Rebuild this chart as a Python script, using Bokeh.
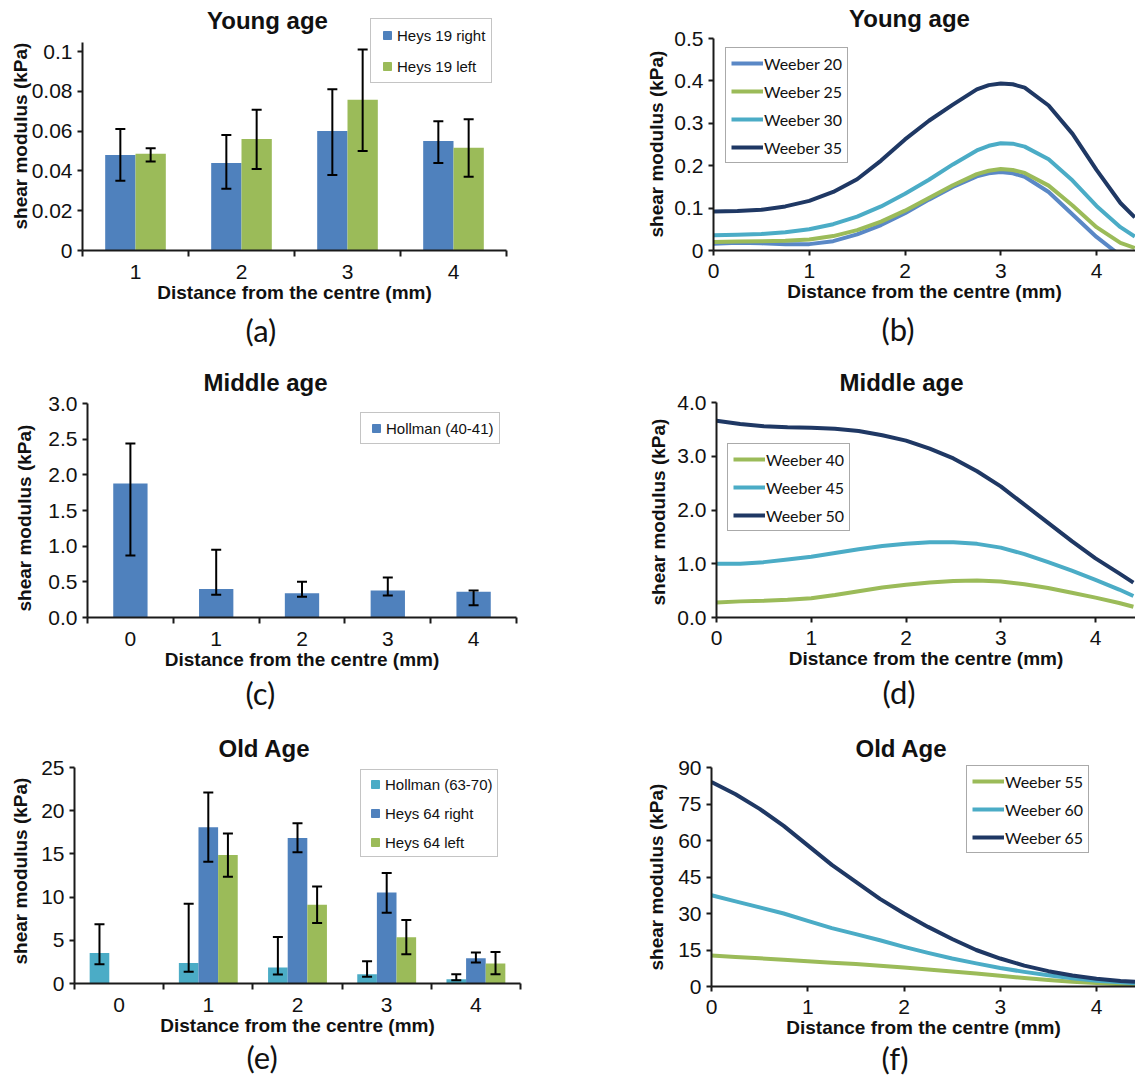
import numpy as np
from bokeh.plotting import figure
from bokeh.layouts import column, row
from bokeh.models import (ColumnDataSource, Whisker, TeeHead, Legend, LegendItem,
                          Label, FixedTicker, Range1d, Title)
from bokeh.embed import file_html
from bokeh.resources import INLINE

# ---------------- data ----------------
# (a) Young age, bars
dist_a = [1, 2, 3, 4]
heys19_right = [0.048, 0.044, 0.060, 0.055]
heys19_right_lo = [0.035, 0.031, 0.038, 0.044]
heys19_right_hi = [0.061, 0.058, 0.081, 0.065]
heys19_left = [0.0486, 0.056, 0.0757, 0.0516]
heys19_left_lo = [0.0447, 0.041, 0.050, 0.037]
heys19_left_hi = [0.0514, 0.0707, 0.101, 0.066]
yticks_a = [0, 0.02, 0.04, 0.06, 0.08, 0.1]
ylabels_a = ["0", "0.02", "0.04", "0.06", "0.08", "0.1"]

# (c) Middle age, bars
dist_c = [0, 1, 2, 3, 4]
hollman_40 = [1.88, 0.40, 0.34, 0.38, 0.36]
hollman_40_lo = [0.87, 0.32, 0.29, 0.31, 0.17]
hollman_40_hi = [2.44, 0.95, 0.50, 0.56, 0.38]
yticks_c = [0, 0.5, 1.0, 1.5, 2.0, 2.5, 3.0]
ylabels_c = ["0.0", "0.5", "1.0", "1.5", "2.0", "2.5", "3.0"]

# (e) Old age, bars
dist_e = [0, 1, 2, 3, 4]
hollman_63 = [3.54, 2.38, 1.85, 1.08, 0.50]
hollman_63_lo = [2.23, 1.35, 1.04, 0.77, 0.38]
hollman_63_hi = [6.85, 9.23, 5.38, 2.58, 1.08]
heys64_right = [np.nan, 18.08, 16.85, 10.54, 2.92]
heys64_right_lo = [np.nan, 14.1, 15.2, 8.2, 2.42]
heys64_right_hi = [np.nan, 22.1, 18.54, 12.8, 3.58]
heys64_left = [np.nan, 14.88, 9.12, 5.35, 2.31]
heys64_left_lo = [np.nan, 12.35, 7.0, 3.38, 1.08]
heys64_left_hi = [np.nan, 17.35, 11.23, 7.35, 3.65]
yticks_e = [0, 5, 10, 15, 20, 25]
ylabels_e = ["0", "5", "10", "15", "20", "25"]

# (b) Young age, lines (distance grid in mm)
dist_b = [0, 0.25, 0.5, 0.75, 1, 1.25, 1.5, 1.75, 2, 2.25, 2.5, 2.75, 2.875,
          3, 3.125, 3.25, 3.5, 3.75, 4, 4.25, 4.4]
weeber20 = [0.016, 0.018, 0.017, 0.015, 0.015, 0.022, 0.038, 0.060, 0.088, 0.120,
            0.150, 0.175, 0.182, 0.185, 0.182, 0.174, 0.138, 0.085, 0.032, -0.012, -0.035]
weeber25 = [0.020, 0.021, 0.022, 0.023, 0.026, 0.034, 0.048, 0.068, 0.094, 0.124,
            0.154, 0.180, 0.188, 0.192, 0.190, 0.183, 0.153, 0.106, 0.055, 0.018, 0.006]
weeber30 = [0.036, 0.037, 0.039, 0.043, 0.050, 0.062, 0.080, 0.104, 0.134, 0.167,
            0.203, 0.236, 0.247, 0.253, 0.252, 0.245, 0.215, 0.165, 0.105, 0.055, 0.033]
weeber35 = [0.092, 0.093, 0.096, 0.104, 0.117, 0.138, 0.168, 0.212, 0.262, 0.306,
            0.344, 0.380, 0.390, 0.394, 0.392, 0.384, 0.342, 0.275, 0.190, 0.112, 0.078]
yticks_b = [0, 0.1, 0.2, 0.3, 0.4, 0.5]
ylabels_b = ["0", "0.1", "0.2", "0.3", "0.4", "0.5"]

# (d) and (f) lines (distance grid in mm)
dist_line = [0, 0.25, 0.5, 0.75, 1, 1.25, 1.5, 1.75, 2, 2.25, 2.5, 2.75,
             3, 3.25, 3.5, 3.75, 4, 4.25, 4.4]
# (d) Middle age
weeber40 = [0.28, 0.30, 0.31, 0.33, 0.36, 0.42, 0.49, 0.56, 0.61, 0.65,
            0.68, 0.69, 0.67, 0.62, 0.55, 0.46, 0.37, 0.27, 0.20]
weeber45 = [1.00, 1.00, 1.03, 1.08, 1.13, 1.20, 1.27, 1.33, 1.37, 1.40,
            1.40, 1.37, 1.30, 1.18, 1.03, 0.87, 0.70, 0.52, 0.40]
weeber50 = [3.66, 3.60, 3.56, 3.54, 3.53, 3.51, 3.47, 3.39, 3.29, 3.14,
            2.96, 2.72, 2.44, 2.10, 1.76, 1.42, 1.10, 0.82, 0.65]
yticks_d = [0, 1.0, 2.0, 3.0, 4.0]
ylabels_d = ["0.0", "1.0", "2.0", "3.0", "4.0"]
# (f) Old age
weeber55 = [12.7, 12.1, 11.6, 11.0, 10.4, 9.8, 9.2, 8.5, 7.8, 7.0,
            6.2, 5.3, 4.4, 3.5, 2.7, 2.0, 1.4, 0.9, 0.7]
weeber60 = [37.5, 35.0, 32.5, 30.0, 27.0, 24.0, 21.5, 19.0, 16.3, 13.8,
            11.5, 9.5, 7.6, 6.0, 4.6, 3.4, 2.4, 1.7, 1.3]
weeber65 = [84.0, 79.0, 73.0, 66.0, 58.0, 50.0, 43.0, 36.0, 30.0, 24.5,
            19.5, 15.0, 11.5, 8.6, 6.3, 4.5, 3.2, 2.3, 1.9]
yticks_f = [0, 15, 30, 45, 60, 75, 90]
ylabels_f = ["0", "15", "30", "45", "60", "75", "90"]
xticks_line = [0, 1, 2, 3, 4]

# ---------------- style ----------------
BLUE = "#4F81BD"
LBLUE = "#5A88C6"
GREEN = "#9BBB59"
CYAN = "#4BACC6"
NAVY = "#1F3864"
AX = "#1a1a1a"
TXT = "#111111"
ARIAL = "Liberation Sans"
CAL = "Lato"


def make_fig(left, fw, right, top, fh, bottom, xr, ppu, axis_top, yticks, ylabels,
             ylab_standoff, ylab_off, letter, letter_off, letter_standoff):
    # y range extends above the axis so that title and legend are inside the frame
    p = figure(width=left + fw + right, height=top + fh + bottom,
               frame_width=fw, frame_height=fh,
               min_border_left=left, min_border_right=right,
               min_border_top=top, min_border_bottom=bottom,
               x_range=Range1d(*xr), y_range=Range1d(0, fh / ppu),
               output_backend="svg", toolbar_location=None)
    p.xgrid.visible = False
    p.ygrid.visible = False
    p.outline_line_color = None
    for ax in (p.xaxis[0], p.yaxis[0]):
        ax.axis_line_width = 2
        ax.axis_line_color = AX
        ax.major_tick_line_width = 2
        ax.major_tick_line_color = AX
        ax.major_tick_in = 0
        ax.major_tick_out = 5
        ax.minor_tick_line_color = None
        ax.major_label_text_font = ARIAL
        ax.major_label_text_font_size = "21px"
        ax.major_label_text_color = TXT
        ax.axis_label_text_font = ARIAL
        ax.axis_label_text_font_style = "bold"
        ax.axis_label_text_font_size = "19px"
        ax.axis_label_text_color = TXT
    p.xaxis[0].axis_label = "Distance from the centre (mm)"
    p.yaxis[0].bounds = (0, axis_top)
    p.yaxis[0].major_label_standoff = 5
    p.xaxis[0].major_label_standoff = 8
    p.xaxis[0].axis_label_standoff = 0
    p.yaxis[0].ticker = FixedTicker(ticks=yticks)
    p.yaxis[0].major_label_overrides = dict(zip(yticks, ylabels))
    # y-axis title as a side title (allows shifting along the axis)
    p.add_layout(Title(text="shear modulus (kPa)", align="left", offset=ylab_off,
                       vertical_align="middle", standoff=ylab_standoff,
                       text_font=ARIAL, text_font_size="19px", text_font_style="bold",
                       text_color=TXT), "left")
    p.add_layout(Title(text=letter, align="left", offset=letter_off,
                       vertical_align="middle", standoff=letter_standoff,
                       text_font=CAL, text_font_size="31px", text_font_style="normal",
                       text_color=TXT), "below")
    return p


def add_title(p, title, tx, ty):
    p.add_layout(Label(x=tx, y=ty, x_units="screen", y_units="screen", text=title,
                       text_align="center", text_baseline="middle",
                       text_font=ARIAL, text_font_style="bold", text_font_size="24px",
                       text_color=TXT))


def bar_xaxis(p, dist):
    bounds = [d - 0.5 for d in dist] + [dist[-1] + 0.5]
    ax = p.xaxis[0]
    ax.ticker = FixedTicker(ticks=dist, minor_ticks=bounds)
    ax.major_tick_line_color = None
    ax.major_tick_out = 6
    ax.minor_tick_line_color = AX
    ax.minor_tick_line_width = 2
    ax.minor_tick_in = 0
    ax.minor_tick_out = 6


def bars(p, dist, vals, lo, hi, offset, width, color):
    xs = np.array(dist, dtype=float) + offset
    src = ColumnDataSource(dict(x=xs, top=np.array(vals, dtype=float),
                                lo=np.array(lo, dtype=float), hi=np.array(hi, dtype=float)))
    p.vbar(x="x", top="top", width=width, source=src, fill_color=color, line_color=None)
    head = dict(size=10, line_width=2, line_color="black")
    p.add_layout(Whisker(source=src, base="x", lower="lo", upper="hi", level="overlay",
                         line_width=2, line_color="black",
                         upper_head=TeeHead(**head), lower_head=TeeHead(**head)))
    return p.scatter(x=[np.nan], y=[np.nan], marker="square", size=8, color=color)


def bar_legend(p, items, loc, spacing, padding):
    lg = Legend(items=[LegendItem(label=l, renderers=[r]) for l, r in items],
                location=loc, orientation="vertical", padding=padding, spacing=spacing,
                margin=0, label_height=20, glyph_height=20, glyph_width=20,
                label_standoff=0, border_line_color="#8a8a8a", border_line_width=1.5,
                background_fill_color="white", background_fill_alpha=1.0,
                label_text_font=ARIAL, label_text_font_size="15px",
                label_text_color=TXT)
    p.add_layout(lg)


def line_legend(p, items, loc):
    lg = Legend(items=[LegendItem(label=l, renderers=[r]) for l, r in items],
                location=loc, orientation="vertical", padding=5, spacing=8,
                margin=0, label_height=20, glyph_height=20, glyph_width=32,
                label_standoff=1, border_line_color="#555555", border_line_width=1.5,
                background_fill_color="white", background_fill_alpha=1.0,
                label_text_font=CAL, label_text_font_size="16px",
                label_text_color=TXT)
    p.add_layout(lg)


def line_xaxis(p):
    p.xaxis[0].ticker = FixedTicker(ticks=xticks_line)


# ---------------- (a) ----------------
pa = make_fig(82, 424, 102, 2, 248, 110, (0.5, 4.5), 1990, 0.1045, yticks_a, ylabels_a,
              -7, 21, "(a)", 163, 8)
bar_xaxis(pa, dist_a)
ra1 = bars(pa, dist_a, heys19_right, heys19_right_lo, heys19_right_hi, -0.143, 0.286, BLUE)
ra2 = bars(pa, dist_a, heys19_left, heys19_left_lo, heys19_left_hi, 0.143, 0.286, GREEN)
bar_legend(pa, [("Heys 19 right", ra1), ("Heys 19 left", ra2)], (288, 167), 11, 6)
add_title(pa, "Young age", 185, 230)

# ---------------- (b) ----------------
pb = make_fig(105, 422, 0, 2, 248, 110, (0, 422 / 95.75), 424, 0.5, yticks_b, ylabels_b,
              7, 13, "(b)", 168, 8)
line_xaxis(pb)
rb = []
for ys, c in [(weeber20, LBLUE), (weeber25, GREEN), (weeber30, CYAN), (weeber35, NAVY)]:
    rb.append(pb.line(dist_b, ys, line_width=4, line_color=c, line_join="round"))
line_legend(pb, list(zip(["Weeber 20", "Weeber 25", "Weeber 30", "Weeber 35"], rb)), (12, 87))
add_title(pb, "Young age", 196, 232)

# ---------------- (c) ----------------
pc = make_fig(87, 429, 92, 2, 255, 98, (-0.5, 4.5), 71.33, 3.0, yticks_c, ylabels_c,
              20, 6, "(c)", 158, 0)
bar_xaxis(pc, dist_c)
rc = bars(pc, dist_c, hollman_40, hollman_40_lo, hollman_40_hi, 0.0, 0.4, BLUE)
bar_legend(pc, [("Hollman (40-41)", rc)], (273, 173), 0, 5)
add_title(pc, "Middle age", 178, 235)

# ---------------- (d) ----------------
pd_ = make_fig(108, 419, 0, 2, 255, 98, (0, 419 / 94.75), 53.75, 4.0, yticks_d, ylabels_d,
               9, 12, "(d)", 166, 0)
line_xaxis(pd_)
rd = []
for ys, c in [(weeber40, GREEN), (weeber45, CYAN), (weeber50, NAVY)]:
    rd.append(pd_.line(dist_line, ys, line_width=4, line_color=c, line_join="round"))
line_legend(pd_, list(zip(["Weeber 40", "Weeber 45", "Weeber 50"], rd)), (11, 86))
add_title(pd_, "Middle age", 185, 235)

# ---------------- (e) ----------------
pe = make_fig(74, 446, 88, 2, 266, 95, (-0.5, 4.5), 8.64, 25, yticks_e, ylabels_e,
              13, 19, "(e)", 172, -4)
bar_xaxis(pe, dist_e)
re1 = bars(pe, dist_e, hollman_63, hollman_63_lo, hollman_63_hi, -0.22, 0.22, CYAN)
re2 = bars(pe, dist_e, heys64_right, heys64_right_lo, heys64_right_hi, 0.0, 0.22, BLUE)
re3 = bars(pe, dist_e, heys64_left, heys64_left_lo, heys64_left_hi, 0.22, 0.22, GREEN)
bar_legend(pe, [("Hollman (63-70)", re1), ("Heys 64 right", re2), ("Heys 64 left", re3)],
           (286, 126), 9, 4)
add_title(pe, "Old Age", 190, 235)

# ---------------- (f) ----------------
pf = make_fig(103, 424, 0, 2, 269, 92, (0, 424 / 96.25), 2.4333, 90, yticks_f, ylabels_f,
              15, 16, "(f)", 170, -6)
line_xaxis(pf)
rf = []
for ys, c in [(weeber55, GREEN), (weeber60, CYAN), (weeber65, NAVY)]:
    rf.append(pf.line(dist_line, ys, line_width=4, line_color=c, line_join="round"))
line_legend(pf, list(zip(["Weeber 55", "Weeber 60", "Weeber 65"], rf)), (255, 133))
add_title(pf, "Old Age", 190, 238)

layout = column(row(pa, pb), row(pc, pd_), row(pe, pf))
open("out.html", "w").write(file_html(layout, INLINE))
